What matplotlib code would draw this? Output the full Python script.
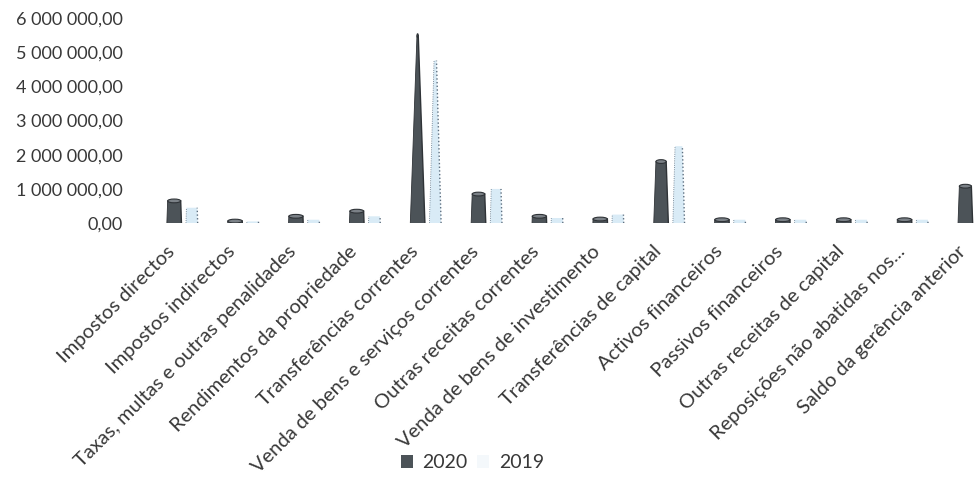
"""Receitas por classificação económica: 2020 vs 2019 (colunas em cone)"""
import matplotlib
matplotlib.use('Agg')
import matplotlib.pyplot as plt
import matplotlib.transforms as mtransforms
from matplotlib.patches import Polygon, Ellipse, Patch
from matplotlib.ticker import FuncFormatter

categorias = [
    'Impostos directos',
    'Impostos indirectos',
    'Taxas, multas e outras penalidades',
    'Rendimentos da propriedade',
    'Transferências correntes',
    'Venda de bens e serviços correntes',
    'Outras receitas correntes',
    'Venda de bens de investimento',
    'Transferências de capital',
    'Activos financeiros',
    'Passivos financeiros',
    'Outras receitas de capital',
    'Reposições não abatidas nos...',
    'Saldo da gerência anterior',
]

valores_2020 = [650000, 60000, 200000, 350000, 5480000, 850000, 200000,
                120000, 1800000, 100000, 100000, 100000, 100000, 1080000]
valores_2019 = [450000, 50000, 100000, 200000, 4750000, 1000000, 150000,
                250000, 2250000, 100000, 100000, 100000, 100000, 0]

anos = ['2020', '2019']
y_max = 6000000

plt.rcParams['font.family'] = ['Lato', 'DejaVu Sans']

fig = plt.figure(figsize=(9.76, 4.83), dpi=100)
ax = fig.add_axes([0.156, 0.538, 0.873, 0.425])


def cone(ax, x, v, w, face, edge, ls='-', topo=True):
    """Cone truncado no valor v (o vértice fica no máximo do eixo)"""
    w_top = w * (1 - v / y_max)
    pts = [(x - w / 2, 0), (x + w / 2, 0),
           (x + w_top / 2, v), (x - w_top / 2, v)]
    ax.add_patch(Polygon(pts, closed=True, facecolor=face,
                         edgecolor='none', zorder=3))
    ax.plot([x + w / 2, x + w_top / 2], [0, v], color=edge,
            linestyle=ls, linewidth=1.0, zorder=4)
    ax.plot([x - w / 2, x - w_top / 2], [0, v], color=edge,
            linestyle=ls, linewidth=0.6, zorder=4)
    if topo and w_top > 0.02:
        ax.add_patch(Ellipse((x, v), w_top, 110000, facecolor='#7b8187',
                             edgecolor='#2f3337', linewidth=0.8, zorder=5))


largura = 0.24
for i, (v20, v19) in enumerate(zip(valores_2020, valores_2019)):
    cone(ax, i - 0.14, v20, largura, '#4c5358', '#2f3337')
    if v19 > 0:
        cone(ax, i + 0.15, v19, largura * 0.8, '#d9ebf6', '#5d6f80',
             ls=':', topo=False)

ax.set_xlim(-0.5, len(categorias) - 0.5)
ax.set_ylim(0, y_max)
ax.set_yticks(range(0, y_max + 1, 1000000))
ax.yaxis.set_major_formatter(FuncFormatter(
    lambda v, pos: f'{v:,.2f}'.replace(',', ' ').replace('.', ',')))
ax.set_xticks(range(len(categorias)))
ax.set_xticklabels(categorias, rotation=45, ha='right', va='top',
                   rotation_mode='anchor', fontsize=14.5, color='#383838')
ax.tick_params(axis='y', length=0, pad=21, labelsize=13, labelcolor='#383838')
ax.tick_params(axis='x', length=0, pad=14)
for s in ax.spines.values():
    s.set_visible(False)

# desloca os rótulos rodados um pouco para a esquerda
desvio = mtransforms.ScaledTranslation(-17 / 100, 0, fig.dpi_scale_trans)
for lbl in ax.get_xticklabels():
    lbl.set_transform(lbl.get_transform() + desvio)

handles = [Patch(facecolor='#4c5358', edgecolor='none'),
           Patch(facecolor='#f4f8fb', edgecolor='none')]
fig.legend(handles, anos, loc='center', bbox_to_anchor=(0.484, 0.042),
           ncol=2, frameon=False, fontsize=14, handlelength=0.6,
           handleheight=0.6, columnspacing=0.5, handletextpad=0.5,
           labelcolor='#383838')

plt.savefig('out.png', dpi=100)
plt.close()
